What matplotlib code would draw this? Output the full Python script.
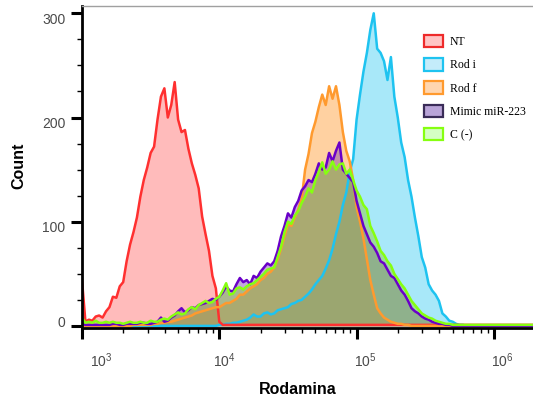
import numpy as np
import matplotlib
matplotlib.use('Agg')
import matplotlib.pyplot as plt
from matplotlib.patches import Patch
from matplotlib.transforms import ScaledTranslation

plt.rcParams['font.family'] = ['Liberation Sans', 'DejaVu Sans']
plt.rcParams['mathtext.fontset'] = 'custom'
plt.rcParams['mathtext.rm'] = 'Liberation Sans'
plt.rcParams['mathtext.it'] = 'Liberation Sans'

# bin centres, log10 of fluorescence (3.000 ... 6.300)
log_bins = np.round(3.0 + 0.025 * np.arange(133), 3)

nt = [44, 4, 6, 5, 9, 10, 8, 14, 18, 28, 27, 38, 42, 62, 78, 90, 104, 124, 140, 152,
      166, 172, 198, 220, 228, 200, 212, 234, 198, 186, 188, 170, 156, 145, 132, 105, 88, 72, 48, 36,
      4] + [1] * 92
rod_i = [0] * 40 + [
    1, 1, 2, 2, 3, 3, 4, 5, 6, 8, 11, 9, 9, 12, 13, 11, 12, 15, 16, 17,
    18, 21, 22, 24, 25, 28, 31, 35, 40, 44, 48, 55, 63, 74, 88, 100, 116, 128, 148, 160,
    198, 222, 244, 262, 284, 300, 266, 262, 254, 236, 258, 220, 200, 176, 162, 140, 124, 104, 86, 66,
    56, 40, 34, 30, 24, 12, 9, 5, 4, 2, 1, 1] + [0] * 21
rod_f = [0] * 15 + [1] * 5 + [
    1, 2, 2, 3, 3, 4, 4, 5, 6, 7, 8, 9, 10, 12, 13, 14, 15, 16, 17, 18,
    18, 20, 22, 22, 24, 26, 30, 30, 33, 36, 38, 40, 44, 46, 50, 52, 56, 64, 74, 86,
    98, 96, 104, 112, 122, 150, 165, 185, 196, 210, 222, 212, 230, 218, 230, 212, 186, 168, 158, 140,
    114, 100, 84, 64, 44, 30, 17, 12, 8, 6, 4, 3, 2, 2, 1, 1] + [0] * 37
mimic = [2, 1, 1, 1, 1, 1, 1, 1, 1, 2, 2, 1, 1, 2, 2, 2, 2, 3, 3, 2,
         2, 3, 4, 8, 4, 5, 8, 10, 14, 17, 13, 15, 18, 17, 20, 21, 22, 24, 26, 25,
         28, 32, 38, 34, 33, 40, 46, 42, 44, 40, 48, 46, 52, 56, 60, 58, 62, 72, 86, 96,
         108, 104, 114, 120, 130, 134, 140, 138, 146, 156, 150, 152, 166, 158, 168, 176, 150, 146, 142, 138,
         120, 108, 96, 88, 80, 76, 70, 62, 60, 54, 48, 46, 40, 34, 30, 24, 17, 14, 12, 9,
         7, 6, 4, 3, 2, 2, 1, 1] + [0] * 25
c_neg = [8, 3, 4, 3, 5, 3, 3, 4, 3, 4, 3, 3, 2, 3, 4, 3, 3, 4, 3, 3,
         5, 4, 4, 6, 7, 6, 9, 11, 13, 11, 12, 16, 18, 16, 20, 22, 24, 22, 23, 26,
         28, 34, 41, 30, 31, 36, 37, 35, 38, 40, 41, 44, 47, 50, 54, 55, 56, 66, 76, 90,
         100, 98, 106, 110, 118, 124, 132, 128, 140, 148, 157, 146, 150, 158, 150, 155, 156, 146, 150, 140,
         130, 124, 116, 112, 96, 89, 81, 72, 68, 62, 58, 50, 45, 40, 36, 30, 24, 20, 16, 12,
         10, 8, 7, 5, 4, 3, 2, 2, 1] + [1] * 24

labels = ['NT', 'Rod i', 'Rod f', 'Mimic miR-223', 'C (-)']
series = [nt, rod_i, rod_f, mimic, c_neg]
line_colors = ['#ff3030', '#1ec3f0', '#ff9a2e', '#6a00c8', '#86ff10']
fill_colors = ['#ff6a6a', '#3fcdf2', '#ff9a30', '#7a40b0', '#8ccc30']
legend_edges = ['#ee2a2a', '#1ec3f0', '#ff9a2e', '#3a2c58', '#86ff10']
legend_faces = ['#ffc4c4', '#c4ecfa', '#ffd6b0', '#b9a4d8', '#d4ffc4']

x = 10 ** log_bins

fig = plt.figure(figsize=(5.33, 4.04), dpi=100)
ax = fig.add_axes([82 / 533, 1 - 328 / 404, 1 - 82 / 533, (328 - 6) / 404])

order = [1, 0, 2, 3, 4]
for i in order:
    ax.fill_between(x, series[i], 0, color=fill_colors[i], alpha=0.45, lw=0)
    ax.plot(x, series[i], color=line_colors[i], lw=1.8)

ax.set_xscale('log')
ax.set_xlim(1e3, 10 ** 6.285)
ax.set_ylim(-2, 307)

ax.set_xticks([1e3, 1e4, 1e5, 1e6])
ax.set_xticklabels([r'$10^{3}$', r'$10^{4}$', r'$10^{5}$', r'$10^{6}$'])
ax.set_yticks([0, 100, 200, 300])
ax.set_yticks(np.arange(0, 301, 25), minor=True)

ax.tick_params(which='major', length=8, width=2.2, direction='out', color='black',
               labelsize=10, labelcolor='#4a4a4a')
ax.tick_params(which='minor', length=3.5, width=1, direction='out', color='black')
ax.tick_params(axis='x', which='major', pad=9)
ax.tick_params(axis='y', which='major', pad=4)

# nudge tick labels like the original software does
for lab, dx in zip(ax.get_xticklabels(), [19, 5, 9, 8]):
    lab.set_transform(lab.get_transform() + ScaledTranslation(dx / 100, 0, fig.dpi_scale_trans))
for lab, dy in zip(ax.get_yticklabels(), [4, -5, -5, -5]):
    lab.set_transform(lab.get_transform() + ScaledTranslation(0, dy / 100, fig.dpi_scale_trans))

ax.spines['right'].set_visible(False)
ax.spines['top'].set_color('#a0a0a0')
ax.spines['top'].set_linewidth(1)
ax.spines['left'].set_linewidth(2)
ax.spines['bottom'].set_linewidth(2)

fig.text(19 / 533, 1 - 166 / 404, 'Count', rotation=90, ha='center', va='center',
         fontsize=11.5, fontweight='bold')
fig.text(298 / 533, 1 - 390 / 404, 'Rodamina', ha='center', va='center',
         fontsize=11.5, fontweight='bold')

handles = [Patch(facecolor=legend_faces[i], edgecolor=legend_edges[i], lw=1.6, label=labels[i])
           for i in range(5)]
ax.legend(handles=handles, loc='upper left', bbox_to_anchor=(424 / 533, 1 - 35 / 404),
          bbox_transform=fig.transFigure, frameon=False, borderpad=0, borderaxespad=0,
          handlelength=1.6, handleheight=1.25, handletextpad=0.6, labelspacing=0.85,
          prop={'family': 'Liberation Serif', 'size': 8.5})

fig.savefig('out.png', dpi=100)
